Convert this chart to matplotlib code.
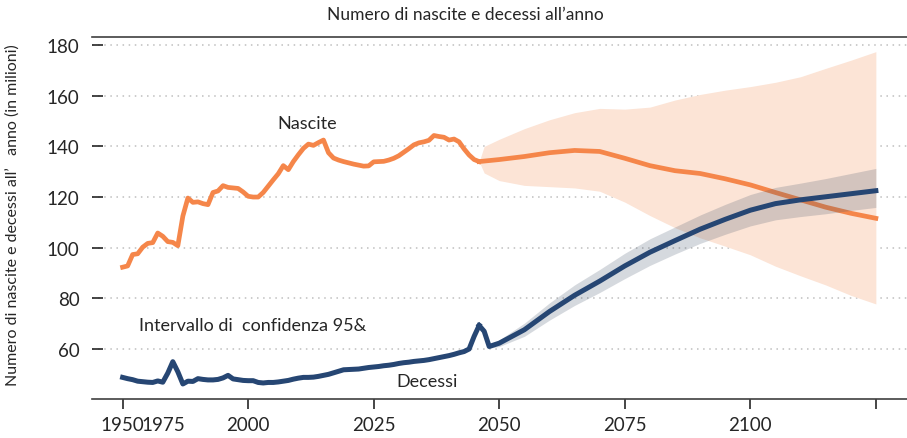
import numpy as np
import matplotlib
matplotlib.use("Agg")
import matplotlib.pyplot as plt

plt.rcParams['font.family'] = ['Lato', 'DejaVu Sans']

# observed, 1950-2021 (millions)
obs_years = np.arange(1950, 2022)
births_obs = [
    92.3, 92.8, 97.3, 97.6, 100.2, 101.7, 102.0, 105.8, 104.5, 102.4,
    102.1, 100.8, 112.5, 119.6, 117.9, 118.1, 117.4, 117.0, 121.8, 122.4,
    124.5, 123.8, 123.6, 123.4, 122.0, 120.3, 120.0, 120.0, 121.8, 124.3,
    126.8, 129.2, 132.4, 130.8, 134.0, 136.7, 139.2, 140.9, 140.4, 141.5,
    142.5, 137.5, 135.4, 134.6, 134.0, 133.5, 133.0, 132.6, 132.2, 132.3,
    133.9, 134.0, 134.1, 134.6, 135.3, 136.3, 137.7, 139.1, 140.6, 141.4,
    141.8, 142.4, 144.3, 143.9, 143.6, 142.5, 142.9, 141.8, 139.0, 136.6,
    134.8, 134.0,
]
deaths_obs = [
    48.8, 48.3, 47.9, 47.3, 47.1, 46.9, 46.8, 47.4, 46.9, 50.5,
    55.0, 51.0, 46.2, 47.3, 47.2, 48.3, 48.0, 47.8, 47.8, 48.0,
    48.6, 49.6, 48.2, 47.9, 47.6, 47.5, 47.5, 46.8, 46.6, 46.8,
    46.8, 47.0, 47.3, 47.6, 48.1, 48.5, 48.8, 48.8, 48.9, 49.2,
    49.6, 50.0, 50.6, 51.2, 51.8, 51.9, 52.0, 52.1, 52.4, 52.7,
    52.9, 53.1, 53.4, 53.6, 53.9, 54.3, 54.6, 54.8, 55.1, 55.3,
    55.5, 55.8, 56.2, 56.6, 57.0, 57.4, 57.9, 58.5, 59.0, 60.0,
    65.0, 69.3,
]

# projections
births_proj_years = [2021, 2022, 2025, 2030, 2035, 2040, 2045, 2050, 2055,
                     2060, 2065, 2070, 2075, 2080, 2085, 2090, 2095, 2100]
births_proj = [134.0, 134.2, 134.8, 136.0, 137.5, 138.4, 138.0, 135.3, 132.4,
               130.4, 129.3, 127.2, 124.8, 121.8, 118.9, 116.0, 113.6, 111.6]
births_lo = [134.0, 129.5, 126.5, 124.6, 124.1, 123.6, 122.3, 118.0, 112.7,
             107.9, 103.9, 100.6, 97.2, 92.7, 88.9, 85.3, 81.2, 77.8]
births_hi = [134.0, 140.0, 142.8, 147.0, 150.5, 153.3, 155.0, 154.7, 155.5,
             158.3, 160.5, 162.2, 163.6, 165.3, 167.5, 170.8, 174.0, 177.4]

deaths_proj_years = [2021, 2022, 2023, 2025, 2030, 2035, 2040, 2045, 2050, 2055,
                     2060, 2065, 2070, 2075, 2080, 2085, 2090, 2095, 2100]
deaths_proj = [69.3, 67.0, 61.0, 62.3, 67.6, 74.8, 81.2, 86.8, 92.8, 98.2,
               102.8, 107.3, 111.2, 114.8, 117.4, 118.9, 120.1, 121.3, 122.5]
deaths_lo = [69.3, 67.0, 60.3, 61.0, 65.0, 71.4, 77.2, 82.3, 87.8, 93.0,
             97.5, 101.7, 105.3, 108.6, 111.0, 112.3, 113.4, 114.7, 115.9]
deaths_hi = [69.3, 67.0, 61.7, 63.6, 70.2, 78.2, 85.3, 91.4, 97.8, 103.5,
             108.2, 112.9, 117.1, 121.0, 123.8, 125.5, 127.3, 129.3, 131.3]

tick_years = [1950, 1975, 2000, 2025, 2050, 2075, 2100]
tick_labels = ["1950", "2000", "2025", "2050", "2075", "2100", ""]
y_ticks = [60, 80, 100, 120, 140, 160, 180]

orange = "#F5864A"
navy = "#264673"
text_col = "#262626"

fig = plt.figure(figsize=(9.07, 4.39), dpi=100)
ax = fig.add_axes([0.1014, 0.0888, 0.8986, 0.8253])

ax.fill_between(births_proj_years, births_lo, births_hi, color="#FCE4D6", lw=0, zorder=1)
ax.plot(obs_years, births_obs, color=orange, lw=3.4, zorder=2, solid_joinstyle='round')
ax.plot(births_proj_years, births_proj, color=orange, lw=3.4, zorder=2)
ax.fill_between(deaths_proj_years[2:], deaths_lo[2:], deaths_hi[2:],
                color="#44546A", alpha=0.22, lw=0, zorder=3)
ax.plot(obs_years, deaths_obs, color=navy, lw=3.6, zorder=4, solid_joinstyle='round')
ax.plot(deaths_proj_years, deaths_proj, color=navy, lw=3.6, zorder=4)

ax.set_xlim(1943.9, 2106.2)
ax.set_ylim(40.26, 183.3)

ax.set_xticks(tick_years, labels=tick_labels)
ax.set_xticks([1958.1], labels=["1975"], minor=True)
ax.tick_params(axis='x', which='major', direction='out', length=7.5, width=1.2,
               pad=5, labelsize=13.5, colors=text_col)
ax.tick_params(axis='x', which='minor', length=0, pad=12.5, labelsize=13.5,
               colors=text_col)
ax.set_yticks(y_ticks)
ax.tick_params(axis='y', direction='in', length=8, width=1.2, pad=9,
               labelsize=13.5, colors=text_col)
ax.yaxis.grid(True, linestyle=(0, (1, 3)), color="#BFBFBF", lw=1.1)
ax.set_axisbelow(True)

for side in ['left', 'right']:
    ax.spines[side].set_visible(False)
for side in ['top', 'bottom']:
    ax.spines[side].set_color("#404040")
    ax.spines[side].set_linewidth(1.2)

ax.text(1986.7, 149.2, "Nascite", fontsize=13, color=text_col, ha='center', va='center')
ax.text(1953.2, 69.5, "Intervallo di  confidenza 95&", fontsize=13, color=text_col,
        ha='left', va='center')
ax.text(2010.6, 47.4, "Decessi", fontsize=13, color=text_col, ha='center', va='center')

fig.text(0.513, 0.965, "Numero di nascite e decessi all\u2019anno", fontsize=12.5,
         color=text_col, ha='center', va='center')
fig.text(0.014, 0.509, "Numero di nascite e decessi all\u2019   anno (in milioni)",
         fontsize=11.5, color=text_col, rotation=90, ha='center', va='center')

fig.savefig("out.png", dpi=100)
